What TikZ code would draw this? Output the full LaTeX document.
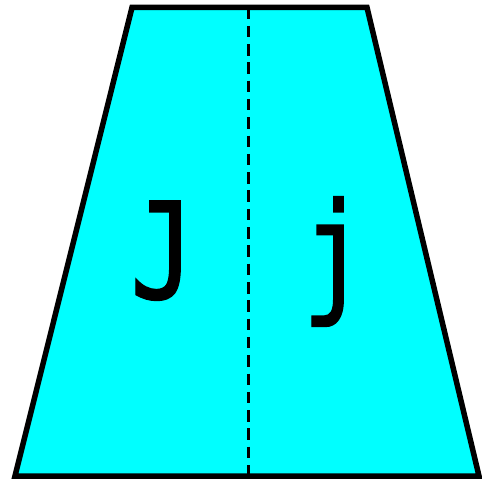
\documentclass[tikz,border=0pt]{standalone}
\usepackage{fontspec}
\newfontfamily\monofont[FakeBold=1.2]{DejaVu Sans Mono}
\definecolor{fillcyan}{RGB}{0,255,255}
\begin{document}
\begin{tikzpicture}[x=1pt,y=1pt,
  outline/.style={draw=black,line width=5.5pt,fill=fillcyan,line join=miter},
  divider/.style={draw=black,line width=3pt,dash pattern=on 11.5pt off 6.8pt},
  letter/.style={font=\monofont\fontsize{134}{134}\selectfont,inner sep=0pt,anchor=base}]
\useasboundingbox (0,0) rectangle (482,480);
\coordinate (tl) at (132,472.5);
\coordinate (tr) at (367,472.5);
\coordinate (br) at (479,4);
\coordinate (bl) at (15,4);
\path[outline] (tl) -- (tr) -- (br) -- (bl) -- cycle;
\coordinate (dtop) at (248.5,472.5);
\coordinate (dbot) at (248.5,4);
\draw[divider] (dtop) -- (dbot);
\node[letter] (J) at (162.5,181.5) {\scalebox{0.8}[1]{J}};
\node[letter] (j) at (334.5,181.5) {\scalebox{0.8}[1]{j}};
\end{tikzpicture}
\end{document}
